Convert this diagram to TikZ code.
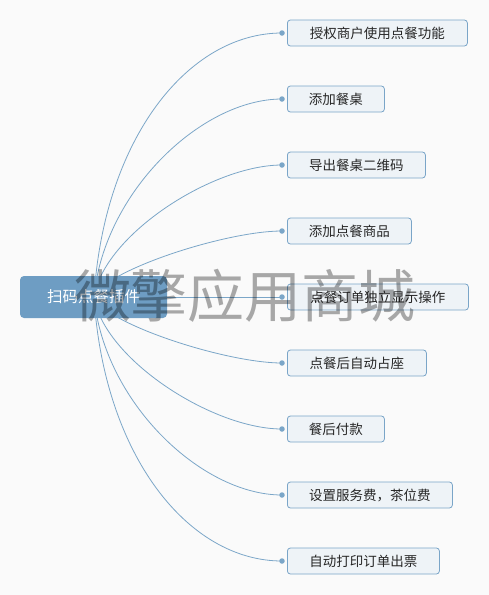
\documentclass[tikz,border=0pt]{standalone}
\usepackage{fontspec}
\usetikzlibrary{calc}
\newfontfamily\cjk{Noto Sans CJK SC}
\definecolor{bgc}{HTML}{FAFAFA}
\definecolor{rootc}{HTML}{6E9DC3}
\definecolor{linec}{HTML}{7BA6C8}
\definecolor{boxfill}{HTML}{EEF3F7}
\definecolor{boxline}{HTML}{7AA5C8}
\pgfdeclarelayer{back}
\pgfsetlayers{back,main}
\begin{document}
\begin{tikzpicture}[x=1pt,y=-1pt,
  rootbox/.style={fill=rootc, draw=none, rounded corners=4pt, minimum width=147pt, minimum height=42pt, inner sep=0pt, text=white, font=\cjk\fontsize{15.5}{18}\selectfont},
  itembox/.style={fill=boxfill, draw=boxline, line width=0.8pt, rounded corners=3pt, minimum height=26pt, inner sep=0pt, anchor=west, text=black!85, font=\cjk\fontsize{13.5}{16}\selectfont},
  dotnode/.style={circle, fill=linec, draw=none, minimum size=5.5pt, inner sep=0pt},
  conn/.style={draw=linec, line width=0.8pt},
  wmark/.style={text=black, opacity=0.33, font=\cjk\fontsize{57}{60}\selectfont, inner sep=0pt}
]
\begin{pgfonlayer}{back}
\fill[bgc] (0,0) rectangle (489,595);
\end{pgfonlayer}
\useasboundingbox (0,0) rectangle (489,595);

\node[rootbox] (root) at (93.5,297) {扫码点餐插件};
\coordinate (S) at ([xshift=0.5pt]root.center);

\node[itembox, minimum width=180pt] (n1) at (287,33) {授权商户使用点餐功能};
\node[itembox, minimum width=97pt]  (n2) at (287,99) {添加餐桌};
\node[itembox, minimum width=138pt] (n3) at (287,165) {导出餐桌二维码};
\node[itembox, minimum width=124pt] (n4) at (287,231) {添加点餐商品};
\node[itembox, minimum width=181pt] (n5) at (287,297) {点餐订单独立显示操作};
\node[itembox, minimum width=139pt] (n6) at (287,363) {点餐后自动占座};
\node[itembox, minimum width=97pt]  (n7) at (287,429) {餐后付款};
\node[itembox, minimum width=165pt] (n8) at (287,495) {设置服务费，茶位费};
\node[itembox, minimum width=152pt] (n9) at (287,561) {自动打印订单出票};

\foreach \i in {1,...,9} {
  \node[dotnode] (d\i) at ([xshift=-5pt]n\i.west) {};
}

\begin{pgfonlayer}{back}
\foreach \i/\f/\g in {1/0.6/0.5, 2/0.53/0.43, 3/0.47/0.37, 4/0.4/0.3,
                      6/0.4/0.3, 7/0.47/0.37, 8/0.53/0.43, 9/0.6/0.5} {
  \draw[conn] (S) .. controls ([xshift=10pt]$(S)!\f!(S |- d\i.center)$)
                  and ($(d\i.center)!\g!(d\i.center -| S)$) .. (d\i.center);
}
\end{pgfonlayer}
\draw[conn] (root.east) -- (d5.center);

\node[wmark] (wm) at (245,296) {微擎应用商城};
\end{tikzpicture}
\end{document}
